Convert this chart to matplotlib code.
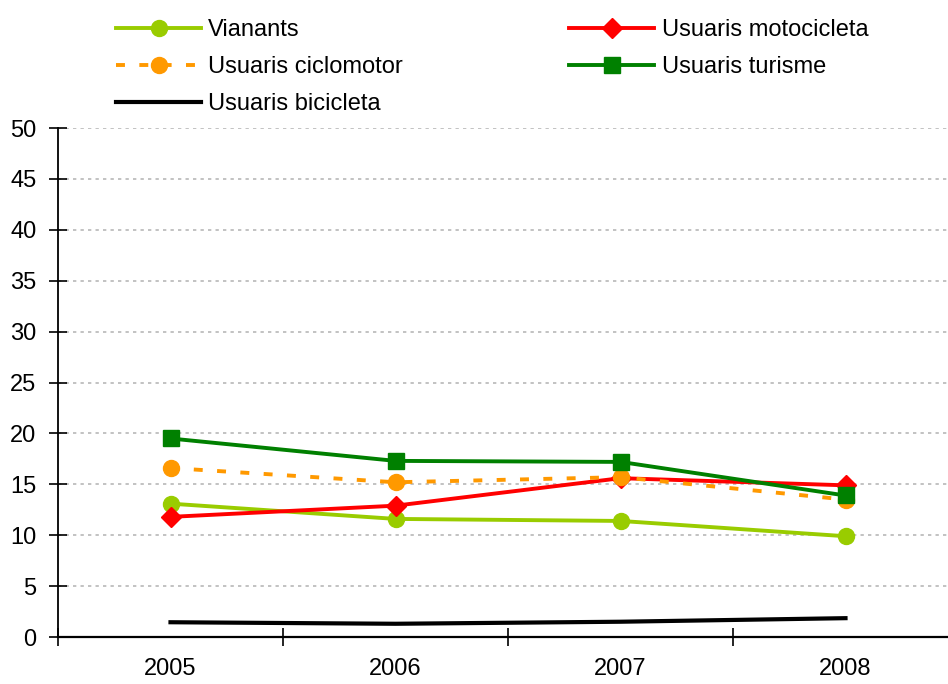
import numpy as np
import matplotlib.pyplot as plt
import matplotlib as mpl

mpl.rcParams['font.family'] = ['Liberation Sans', 'DejaVu Sans']

anys = ['2005', '2006', '2007', '2008']
vianants = [13.1, 11.6, 11.4, 9.9]
motocicleta = [11.8, 12.9, 15.6, 14.9]
ciclomotor = [16.6, 15.2, 15.7, 13.5]
turisme = [19.5, 17.3, 17.2, 13.9]
bicicleta = [1.45, 1.3, 1.5, 1.85]

x = np.arange(len(anys))
fs = 17

fig = plt.figure(figsize=(9.48, 6.84), dpi=100)
ax = fig.add_axes([58/948, 1-637/684, 900/948, (637-128)/684])

lw = 2.8
l1, = ax.plot(x, vianants, color='#99CC00', lw=lw, marker='o', ms=11.5, label='Vianants', zorder=3)
l4, = ax.plot(x, motocicleta, color='#FF0000', lw=lw, marker='D', ms=10, label='Usuaris motocicleta', zorder=3)
l2, = ax.plot(x, ciclomotor, color='#FF9900', lw=lw, ls=(0, (2.3, 3.7)), marker='o', ms=11.5, label='Usuaris ciclomotor', zorder=3)
l5, = ax.plot(x, turisme, color='#008000', lw=lw, marker='s', ms=11.5, label='Usuaris turisme', zorder=4)
l3, = ax.plot(x, bicicleta, color='black', lw=3.0, label='Usuaris bicicleta', zorder=3)

ax.set_xlim(-0.5, 3.5)
ax.set_ylim(0, 50)
ax.set_yticks(np.arange(0, 51, 5))
ax.set_xticks(x)
ax.set_xticklabels(anys)
ax.set_xticks(np.arange(-0.5, 4, 1), minor=True)
ax.tick_params(axis='x', which='major', length=0, pad=15, labelsize=fs)
ax.tick_params(axis='x', which='minor', length=13, width=1.2, direction='inout')
ax.tick_params(axis='y', length=13, width=1.2, direction='inout', labelsize=fs, pad=9)
ax.yaxis.grid(True, color='#b8b8b8', ls=(0, (2, 2.5)), lw=1.2)
ax.set_axisbelow(True)
for s in ['top', 'right']:
    ax.spines[s].set_visible(False)
ax.spines['left'].set_linewidth(1.3)
ax.spines['bottom'].set_linewidth(1.6)

fig.legend(handles=[l1, l2, l3, l4, l5], loc='upper left', bbox_to_anchor=(102/948, 1 - 5/684),
           ncol=2, frameon=False, fontsize=fs, handlelength=3.6, handletextpad=0.3,
           columnspacing=7.05, labelspacing=0.64, borderaxespad=0.2)

fig.savefig('out.png', dpi=100)
